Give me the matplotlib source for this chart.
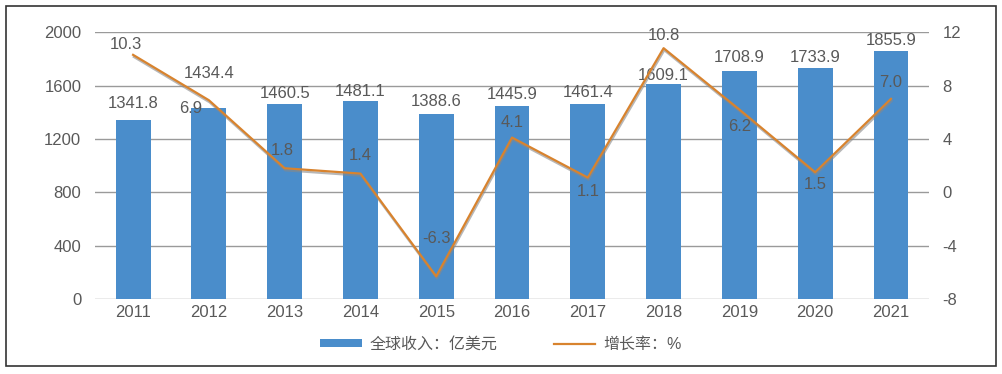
import matplotlib
matplotlib.use('Agg')
import matplotlib.pyplot as plt
import matplotlib.patheffects as pe
from matplotlib.patches import Rectangle
from matplotlib.lines import Line2D
import numpy as np

plt.rcParams['font.family'] = ['Liberation Sans', 'Noto Sans CJK SC', 'DejaVu Sans']

# Data
years = ['2011', '2012', '2013', '2014', '2015', '2016', '2017', '2018', '2019', '2020', '2021']
revenue = [1341.8, 1434.4, 1460.5, 1481.1, 1388.6, 1445.9, 1461.4, 1609.1, 1708.9, 1733.9, 1855.9]
growth = [10.3, 6.9, 1.8, 1.4, -6.3, 4.1, 1.1, 10.8, 6.2, 1.5, 7.0]

# label offsets (pixels)
bar_offsets = [16, 34, 11, 10, 12, 12, 12, 9, 14, 10, 11]
growth_offsets = [(-7, 10), (-18, -8), (-2, 18), (0, 18), (0, 38), (0, 15),
                  (0, -14), (0, 13), (0, -17), (0, -12), (0, 16)]

bar_color = '#4a8dcb'
line_color = '#d8832e'
text_color = '#595959'
grid_color = '#9a9a9a'

fig = plt.figure(figsize=(10.02, 3.74), dpi=100)
ax = fig.add_axes([0.095, 0.2005, 0.832, 0.7135])
ax2 = ax.twinx()

x = np.arange(len(years))

ax.set_axisbelow(True)
ax.yaxis.grid(True, color=grid_color, linewidth=1)
bars = ax.bar(x, revenue, width=0.46, color=bar_color, zorder=2)
ax.set_ylim(0, 2000)
ax.set_yticks([0, 400, 800, 1200, 1600, 2000])
ax.set_xlim(-0.5, len(years) - 0.5)
ax.set_xticks(x)
ax.set_xticklabels(years)

for xi, v, off in zip(x, revenue, bar_offsets):
    ax.annotate(f'{v:.1f}', (xi, v), xytext=(0, off), textcoords='offset pixels',
                ha='center', va='center', fontsize=12, color=text_color, zorder=5)

ln, = ax2.plot(x, growth, color=line_color, linewidth=1.6,
               path_effects=[pe.SimpleLineShadow(offset=(0.5, -1.5), shadow_color='#888888', alpha=0.6),
                             pe.Normal()])
ax2.set_ylim(-8, 12)
ax2.set_yticks([-8, -4, 0, 4, 8, 12])
ax2.set_yticklabels(['-8', '-4', '0', '4', '8', '12'])

for xi, v, off in zip(x, growth, growth_offsets):
    ax2.annotate(f'{v:.1f}', (xi, v), xytext=off, textcoords='offset pixels',
                 ha='center', va='center', fontsize=12, color=text_color)

for a in (ax, ax2):
    for s in a.spines.values():
        s.set_visible(False)
    a.tick_params(length=0, labelsize=12, labelcolor=text_color)
ax.tick_params(axis='y', pad=10)
ax.tick_params(axis='x', pad=4)
ax2.tick_params(axis='y', pad=10)

line_handle = Line2D([], [], color=line_color, linewidth=1.6)
fig.legend(handles=[bars, line_handle], labels=['全球收入：亿美元', '增长率：%'],
           loc='center', bbox_to_anchor=(0.5, 0.08), ncol=2, frameon=False,
           fontsize=11.5, labelcolor=text_color, handlelength=2.6, handleheight=0.4,
           columnspacing=3.5, handletextpad=0.5)

fig.patches.append(Rectangle((6 / 1002, 8 / 374), 990 / 1002, 360 / 374,
                             transform=fig.transFigure, fill=False,
                             edgecolor='#333333', linewidth=1.2))

fig.savefig('out.png', dpi=100)
